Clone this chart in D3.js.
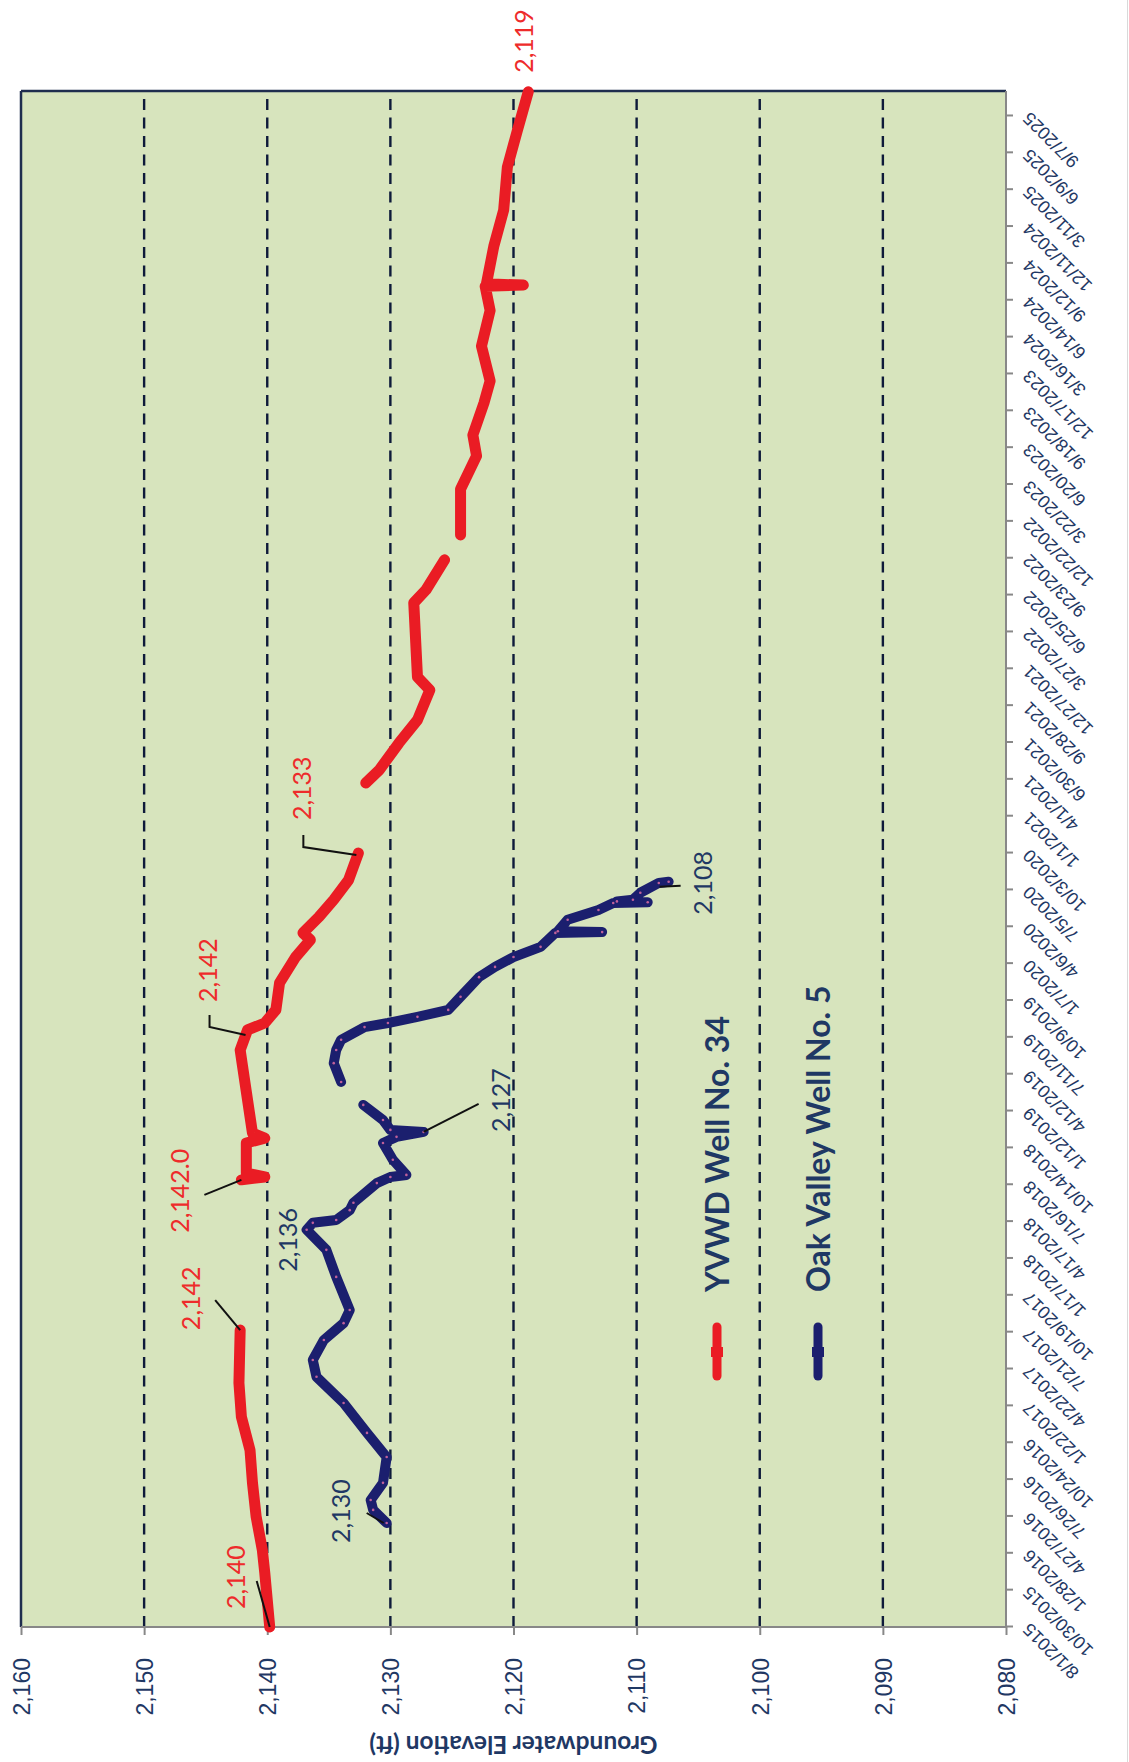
<!DOCTYPE html>
<html>
<head>
<meta charset="utf-8">
<script src="https://cdn.jsdelivr.net/npm/d3@7/dist/d3.min.js"></script>
<style>
  body { margin: 0; background: #fff; }
  svg { display: block; font-family: Lato, "Open Sans", sans-serif; }
</style>
</head>
<body>
<div id="chart"></div>
<script>
// tick labels along the date axis (every 90 days)
var dateLabels = ["8/1/2015", "10/30/2015", "1/28/2016", "4/27/2016", "7/26/2016", "10/24/2016",
  "1/22/2017", "4/22/2017", "7/21/2017", "10/19/2017", "1/17/2018", "4/17/2018", "7/16/2018",
  "10/14/2018", "1/12/2019", "4/12/2019", "7/11/2019", "10/9/2019", "1/7/2020", "4/6/2020",
  "7/5/2020", "10/3/2020", "1/1/2021", "4/1/2021", "6/30/2021", "9/28/2021", "12/27/2021",
  "3/27/2022", "6/25/2022", "9/23/2022", "12/22/2022", "3/22/2023", "6/20/2023", "9/18/2023",
  "12/17/2023", "3/16/2024", "6/14/2024", "9/12/2024", "12/11/2024", "3/11/2025", "6/9/2025",
  "9/7/2025"];
var dateEnd = "11/7/2025";
var valueTicks = [2080, 2090, 2100, 2110, 2120, 2130, 2140, 2150, 2160];
var gridValues = [2090, 2100, 2110, 2120, 2130, 2140, 2150];

// YVWD Well No. 34 (null = gap in record)
var yvwd34 = [
  ["2015-08-01", 2139.8], ["2015-12-11", 2140.2], ["2016-02-05", 2140.4], ["2016-04-26", 2140.9],
  ["2016-07-18", 2141.2], ["2016-10-06", 2141.4], ["2016-12-26", 2142.1], ["2017-03-19", 2142.3],
  ["2017-07-26", 2142.2],
  null,
  ["2018-07-28", 2142.1], ["2018-08-04", 2140.2], ["2018-08-14", 2141.7], ["2018-10-26", 2141.7],
  ["2018-11-07", 2140.2], ["2018-11-19", 2141.2], ["2019-02-08", 2141.6], ["2019-04-30", 2142.0],
  ["2019-06-10", 2142.2], ["2019-07-29", 2141.6], ["2019-08-15", 2140.2], ["2019-09-16", 2139.3],
  ["2019-11-21", 2139.0], ["2020-01-23", 2137.7], ["2020-03-05", 2136.5], ["2020-03-22", 2137.1],
  ["2020-04-30", 2135.8], ["2020-06-11", 2134.6], ["2020-07-29", 2133.4], ["2020-10-03", 2132.6],
  null,
  ["2021-03-23", 2132.0], ["2021-04-24", 2130.9], ["2021-06-29", 2129.3], ["2021-08-24", 2127.8],
  ["2021-11-05", 2126.8], ["2021-12-07", 2127.8], ["2022-06-06", 2128.1], ["2022-07-08", 2127.1],
  ["2022-09-19", 2125.6],
  null,
  ["2022-11-19", 2124.3], ["2023-03-11", 2124.3], ["2023-05-31", 2123.0], ["2023-07-21", 2123.3],
  ["2023-10-07", 2122.4], ["2023-11-30", 2121.9], ["2024-02-23", 2122.6], ["2024-05-20", 2121.9],
  ["2024-07-18", 2122.3], ["2024-07-21", 2119.2], ["2024-07-24", 2122.2], ["2024-10-24", 2121.6],
  ["2025-01-20", 2120.8], ["2025-05-05", 2120.5], ["2025-08-01", 2119.7], ["2025-11-05", 2118.8]
];

// Oak Valley Well No. 5
var oakValley5 = [
  ["2016-04-11", 2130.3], ["2016-05-13", 2131.4], ["2016-06-06", 2131.6], ["2016-07-18", 2130.6],
  ["2016-09-19", 2130.3], ["2016-11-17", 2131.9], ["2017-01-29", 2133.8], ["2017-04-03", 2136.0],
  ["2017-05-14", 2136.3], ["2017-07-02", 2135.4], ["2017-08-12", 2133.8], ["2017-09-13", 2133.3],
  ["2017-12-03", 2134.4], ["2018-02-07", 2135.2], ["2018-03-28", 2136.8], ["2018-04-14", 2136.3],
  ["2018-04-21", 2134.4], ["2018-05-15", 2133.3], ["2018-06-02", 2133.0], ["2018-07-20", 2131.1],
  ["2018-08-04", 2130.0], ["2018-08-09", 2128.7], ["2018-09-15", 2129.8], ["2018-10-26", 2130.6],
  ["2018-11-10", 2129.5], ["2018-11-22", 2127.3], ["2018-11-27", 2130.0], ["2018-12-21", 2130.6],
  ["2019-01-27", 2132.2],
  null,
  ["2019-03-24", 2134.0], ["2019-05-09", 2134.6], ["2019-06-10", 2134.4], ["2019-07-05", 2134.0],
  ["2019-08-05", 2132.1], ["2019-08-15", 2130.2], ["2019-08-30", 2127.8], ["2019-09-16", 2125.3],
  ["2019-10-18", 2124.3], ["2019-12-05", 2122.8], ["2019-12-30", 2121.5], ["2020-01-23", 2120.0],
  ["2020-02-17", 2117.8], ["2020-03-22", 2116.6], ["2020-03-24", 2112.8], ["2020-03-26", 2116.4],
  ["2020-04-23", 2115.6], ["2020-05-17", 2113.1], ["2020-06-03", 2111.9], ["2020-06-05", 2109.1],
  ["2020-06-07", 2111.6], ["2020-06-11", 2110.3], ["2020-06-28", 2109.7], ["2020-07-22", 2108.2],
  ["2020-07-25", 2107.4]
];

// callouts: label, series, point it refers to
var noteText   = ["2,140", "2,142", "2,142.0", "2,142", "2,133", "2,119", "2,130", "2,136", "2,127", "2,108"];
var noteSeries = ["yvwd", "yvwd", "yvwd", "yvwd", "yvwd", "yvwd", "oak", "oak", "oak", "oak"];
var noteDates  = ["2015-08-01", "2017-07-26", "2018-07-28", "2019-07-29", "2020-10-03", "2025-11-05",
                  "2016-04-11", "2018-03-28", "2018-11-22", "2020-07-25"];
var noteValues = [2139.8, 2142.2, 2142.1, 2141.6, 2132.6, 2118.8, 2130.3, 2136.8, 2127.3, 2107.4];

var legendNames = ["YVWD Well No. 34", "Oak Valley Well No. 5"];

// ---- layout (chart is drawn in its own frame, then turned a quarter turn) ----
var W = 1536, H = 985;
var red = "#ea1c24", navy = "#1b1f6e", ink = "#1f3864";

// pixel offsets for the callouts, in the chart's own frame
var noteLayout = [
  {dx: 18, dy: -25, leader: [[0, 0], [46, -13]]},
  {dx: 0, dy: -40, leader: [[0, 0], [30, -25]]},
  {dx: -53, dy: -52, leader: [[0, 0], [-15, -37]]},
  {dx: 28, dy: -31, leader: [[-5, -2], [3, -38], [15, -38]]},
  {dx: 33, dy: -47, leader: [[-2, -2], [6, -55], [18, -55]]},
  {dx: 19, dy: 5, leader: null},
  {dx: -20, dy: -37, leader: [[0, -3], [10, -20]]},
  {dx: -42, dy: -10, leader: null},
  {dx: 0, dy: 86, leader: [[0, 0], [28, 55]]},
  {dx: -33, dy: 43, leader: [[-4, 12], [-5, -9]]}
];

var parseTick = d3.timeParse("%m/%d/%Y");
var parseDay = d3.timeParse("%Y-%m-%d");

var svg = d3.select("#chart").append("svg")
    .attr("width", 1129)
    .attr("height", 1762);

svg.append("line")
    .attr("x1", 1127.5).attr("x2", 1127.5).attr("y1", 0).attr("y2", 1762)
    .attr("stroke", "#d9d9d9").attr("stroke-width", 1);

var g = svg.append("g")
    .attr("transform", "translate(21,1627) rotate(-90)");

var x = d3.scaleTime()
    .domain([parseTick(dateLabels[0]), parseTick(dateEnd)])
    .range([0, W]);

var y = d3.scaleLinear()
    .domain([2080, 2160])
    .range([H, 0]);

g.append("rect")
    .attr("width", W)
    .attr("height", H)
    .attr("fill", "#d7e4bd");

g.append("g").selectAll("line")
  .data(gridValues)
  .enter().append("line")
    .attr("x1", 0).attr("x2", W)
    .attr("y1", function(d) { return y(d); })
    .attr("y2", function(d) { return y(d); })
    .attr("stroke", "#0e1a3a")
    .attr("stroke-width", 2.4)
    .attr("stroke-dasharray", "11,7.5");

// value axis (sits below the plot once turned)
var yAxis = g.append("g")
    .call(d3.axisLeft(y).tickValues(valueTicks).tickSize(8).tickPadding(23).tickFormat(d3.format(",")));
yAxis.select(".domain").remove();
yAxis.selectAll("line").attr("stroke", "#888").attr("stroke-width", 2);
yAxis.selectAll("text").attr("fill", ink).style("font-size", "23px").attr("dy", "0.36em");

// date axis (sits right of the plot once turned)
var xAxis = g.append("g")
    .attr("transform", "translate(0," + H + ")")
    .call(d3.axisBottom(x).tickValues(dateLabels.map(parseTick)).tickSize(7)
      .tickFormat(d3.timeFormat("%-m/%-d/%Y")));
xAxis.select(".domain").remove();
xAxis.selectAll("line").attr("stroke", "#888").attr("stroke-width", 2);
xAxis.selectAll("text")
    .attr("x", 0).attr("y", 0).attr("dy", "0.35em")
    .attr("transform", "translate(0,20) rotate(-45)")
    .style("text-anchor", "end")
    .style("font-size", "18px")
    .attr("fill", ink);

// frame
g.append("line").attr("x1", 0).attr("x2", W).attr("y1", 0).attr("y2", 0)
    .attr("stroke", "#1f2d4e").attr("stroke-width", 2.5);
g.append("line").attr("x1", W).attr("x2", W).attr("y1", 0).attr("y2", H)
    .attr("stroke", "#1f2d4e").attr("stroke-width", 2.5);
g.append("line").attr("x1", 0).attr("x2", 0).attr("y1", 0).attr("y2", H)
    .attr("stroke", "#888").attr("stroke-width", 2);
g.append("line").attr("x1", 0).attr("x2", W).attr("y1", H).attr("y2", H)
    .attr("stroke", "#888").attr("stroke-width", 2);

var line = d3.line()
    .defined(function(d) { return d !== null; })
    .x(function(d) { return x(parseDay(d[0])); })
    .y(function(d) { return y(d[1]); });

g.append("path")
    .datum(yvwd34)
    .attr("d", line)
    .attr("fill", "none")
    .attr("stroke", red)
    .attr("stroke-width", 11)
    .attr("stroke-linejoin", "round")
    .attr("stroke-linecap", "round");

g.append("path")
    .datum(oakValley5)
    .attr("d", line)
    .attr("fill", "none")
    .attr("stroke", navy)
    .attr("stroke-width", 10)
    .attr("stroke-linejoin", "round")
    .attr("stroke-linecap", "round");

g.append("g").selectAll("circle")
  .data(oakValley5.filter(function(d) { return d !== null; }))
  .enter().append("circle")
    .attr("cx", function(d) { return x(parseDay(d[0])); })
    .attr("cy", function(d) { return y(d[1]); })
    .attr("r", 1.3)
    .attr("fill", "#c0609a");

// callouts
noteText.forEach(function(t, i) {
  var px = x(parseDay(noteDates[i])), py = y(noteValues[i]);
  var lay = noteLayout[i];
  var col = noteSeries[i] === "yvwd" ? "#ee2b2b" : ink;
  if (lay.leader) {
    g.append("path")
        .attr("d", d3.line()(lay.leader.map(function(p) { return [px + p[0], py + p[1]]; })))
        .attr("fill", "none")
        .attr("stroke", "#111")
        .attr("stroke-width", 2);
  }
  g.append("text")
      .attr("x", px + lay.dx)
      .attr("y", py + lay.dy)
      .attr("fill", col)
      .style("font-size", "25px")
      .text(t);
});

// legend
var legendY = [696, 797];
var legendCol = [red, navy];
legendNames.forEach(function(name, i) {
  g.append("line")
      .attr("x1", 251).attr("x2", 300)
      .attr("y1", legendY[i]).attr("y2", legendY[i])
      .attr("stroke", legendCol[i])
      .attr("stroke-width", 9)
      .attr("stroke-linecap", "round");
  g.append("rect")
      .attr("x", 270).attr("y", legendY[i] - 6)
      .attr("width", 10).attr("height", 12)
      .attr("fill", legendCol[i]);
  g.append("text")
      .attr("x", 335)
      .attr("y", legendY[i])
      .attr("dy", "0.36em")
      .attr("fill", ink)
      .style("font-size", "32px")
      .style("font-weight", "bold")
      .text(name);
});

// axis title, upside down once turned
g.append("text")
    .attr("transform", "translate(-118," + (H / 2) + ") rotate(-90)")
    .attr("text-anchor", "middle")
    .attr("dy", "0.35em")
    .attr("fill", ink)
    .style("font-size", "24.5px")
    .style("font-weight", "bold")
    .text("Groundwater Elevation (ft)");
</script>
</body>
</html>
